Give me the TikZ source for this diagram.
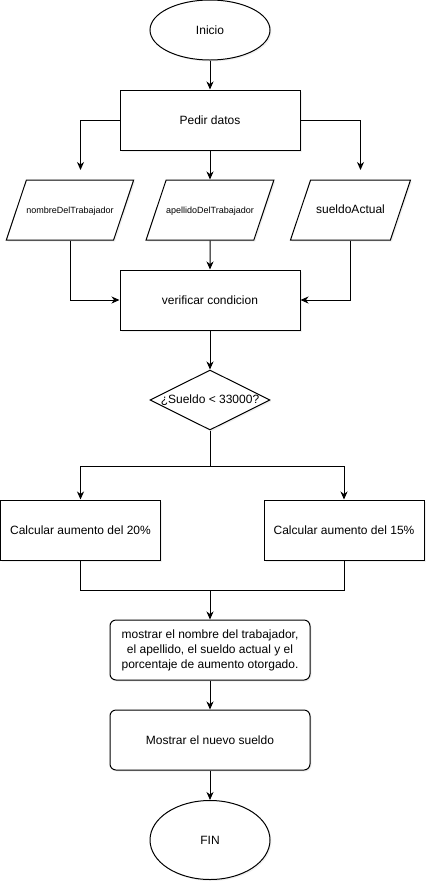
\documentclass[tikz,border=0pt]{standalone}
\usepackage{fontspec}
\setmainfont{Liberation Sans}
\usetikzlibrary{shapes.geometric, arrows.meta, shadows}
\begin{document}
\begin{tikzpicture}[x=1pt, y=-1pt, line width=1pt, >={Stealth[length=8pt, width=7pt, inset=2.5pt]},
    box/.style={draw, fill=white, font=\fontsize{12}{15}\selectfont, drop shadow={shadow xshift=1.5pt, shadow yshift=-1.5pt, opacity=0.12}},
    terminal/.style={box, ellipse, minimum width=120pt, minimum height=60pt, inner sep=0pt},
    process/.style={box, rectangle, minimum width=180pt, minimum height=60pt},
    datain/.style={box, trapezium, trapezium left angle=71.5, trapezium right angle=108.5, trapezium stretches body=true, minimum width=120pt, text height=9pt, text depth=3pt, inner xsep=0pt, inner ysep=24pt},
    decision/.style={box, diamond, minimum width=120pt, minimum height=60pt, inner sep=0pt},
    output/.style={box, rectangle, rounded corners=6pt, minimum width=200pt, minimum height=60pt, align=center}]
        \useasboundingbox (0,0) rectangle (436,892);
        \node[terminal] (inicio) at (210, 30) {Inicio};
        \node[process] (pedir) at (210, 120) {Pedir datos};
        \node[datain, font=\fontsize{9}{11}\selectfont] (nombre) at (70, 210) {nombreDelTrabajador};
        \node[datain, font=\fontsize{9}{11}\selectfont] (apellido) at (210, 210) {apellidoDelTrabajador};
        \node[datain] (sueldo) at (350.5, 210) {sueldoActual};
        \node[process] (verificar) at (210, 300) {verificar condicion};
        \node[decision] (cond) at (210, 400) {\makebox[0pt]{¿Sueldo < 33000?}};
        \node[process, minimum width=160pt] (aum20) at (80.5, 530) {Calcular aumento del 20\%};
        \node[process, minimum width=160pt] (aum15) at (344, 530) {Calcular aumento del 15\%};
        \node[output] (mostrar) at (210, 650) {mostrar el nombre del trabajador,\\el apellido, el sueldo actual y el\\porcentaje de aumento otorgado.};
        \node[output] (nuevo) at (210, 740) {Mostrar el nuevo sueldo};
        \node[terminal, minimum height=79pt] (fin) at (210, 840) {FIN};
        \coordinate (nombreIn) at (80.5, 170);
        \coordinate (sueldoIn) at (360.5, 170);
        \coordinate (split) at (210, 466);
        \coordinate (merge) at (210, 590);
        \draw[->] (inicio) -- (pedir);
        \draw[->] (pedir.west) -| (nombreIn);
        \draw[->] (pedir) -- (apellido);
        \draw[->] (pedir.east) -| (sueldoIn);
        \draw[->] (nombre.south) |- (verificar.west);
        \draw[->] (apellido) -- (verificar);
        \draw[->] (sueldo.south) |- (verificar.east);
        \draw[->] (verificar) -- (cond);
        \draw (cond.south) -- (split);
        \draw[->] (split) -| (aum20.north);
        \draw[->] (split) -| (aum15.north);
        \draw (aum20.south) |- (merge);
        \draw (aum15.south) |- (merge);
        \draw[->] (merge) -- (mostrar);
        \draw[->] (mostrar) -- (nuevo);
        \draw[->] (nuevo) -- (fin);
    \end{tikzpicture}
\end{document}
